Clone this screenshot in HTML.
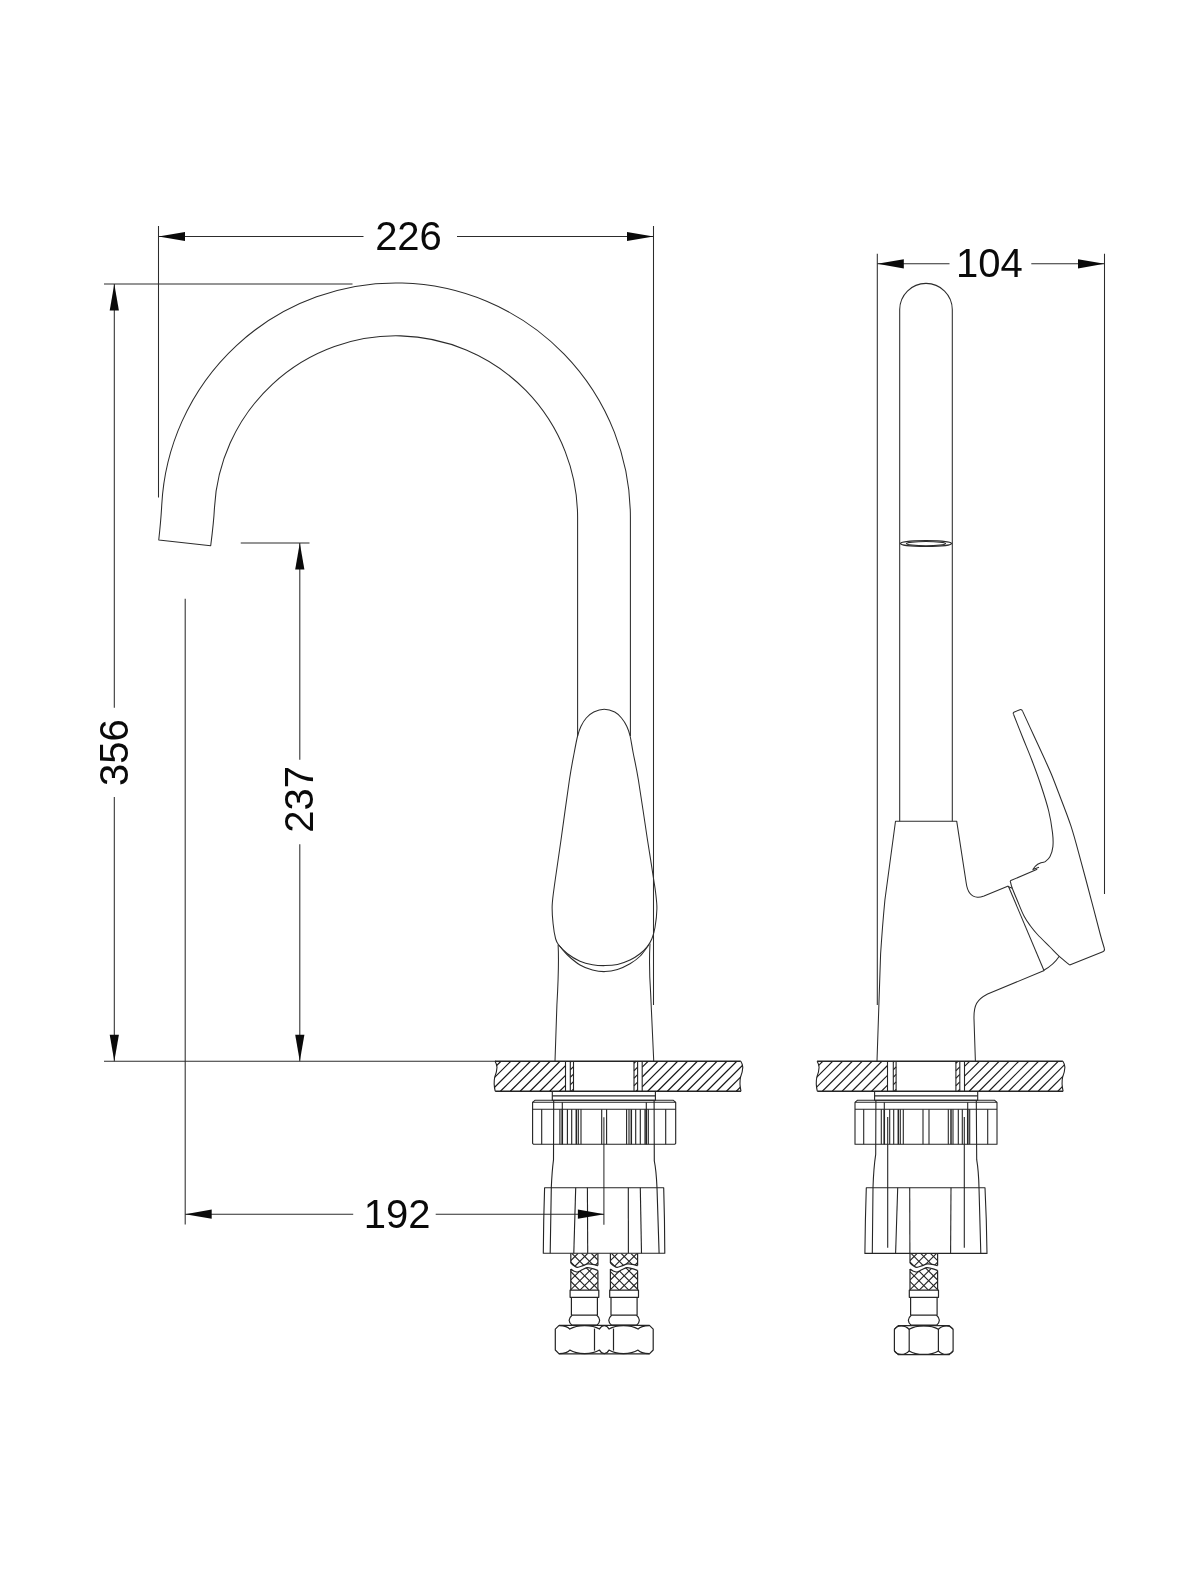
<!DOCTYPE html>
<html lang="en">
<head>
<meta charset="utf-8">
<title>Faucet dimensional drawing</title>
<style>
html,body{margin:0;padding:0;background:#fff;}
body{width:1200px;height:1570px;overflow:hidden;}
svg{display:block;will-change:transform;}
svg text{font-family:"Liberation Sans",sans-serif;font-size:40px;fill:#0a0a0a;text-anchor:middle;}
</style>
</head>
<body>
<svg width="1200" height="1570" viewBox="0 0 1200 1570">
<rect width="1200" height="1570" fill="#ffffff"/>
<g fill="none" stroke="#2c2c2c" stroke-width="1.05" stroke-linecap="butt" stroke-linejoin="round">
<line x1="158.5" y1="226" x2="158.5" y2="497.5"/>
<line x1="653.5" y1="226" x2="653.5" y2="1005"/>
<line x1="158.5" y1="236.5" x2="363.5" y2="236.5"/>
<line x1="457" y1="236.5" x2="653.5" y2="236.5"/>
<line x1="104" y1="284" x2="352.5" y2="284"/>
<line x1="104" y1="1061.25" x2="496" y2="1061.25"/>
<line x1="114.3" y1="284" x2="114.3" y2="707.7"/>
<line x1="114.3" y1="797" x2="114.3" y2="1061.25"/>
<line x1="240.75" y1="543" x2="309.5" y2="543"/>
<line x1="299.8" y1="543" x2="299.8" y2="759.7"/>
<line x1="299.8" y1="844.2" x2="299.8" y2="1061.25"/>
<line x1="185.2" y1="598.75" x2="185.2" y2="1224.4"/>
<line x1="603.9" y1="1117.3" x2="603.9" y2="1224.7"/>
<line x1="185.2" y1="1214.2" x2="353.2" y2="1214.2"/>
<line x1="435.7" y1="1214.2" x2="604" y2="1214.2"/>
<path d="M630.4 736 L630.4 517.5 A234.5 234.5 0 0 0 161.72 505.23 Q161.02 519.23 158.75 540 L210.7 545.75 Q213.75 521.99 214.45 507.99 A181.7 181.7 0 0 1 577.6 517.5 L577.6 736"/>
<path d="M604.2 709.2 C600.7 709.2 596.74 710.53 593.75 712 C590.76 713.47 588.38 715.62 586.25 718 C584.12 720.38 582.44 723.25 581 726.25 C579.56 729.25 578.73 731.62 577.6 736 C576.48 740.38 575.62 745.17 574.25 752.5 C572.88 759.83 571.61 765.42 569.4 780 C567.19 794.58 563.37 823.33 561 840 C558.63 856.67 556.67 869.17 555.2 880 C553.73 890.83 552.55 897.71 552.2 905 C551.85 912.29 552.53 918.12 553.1 923.75 C553.67 929.38 554.66 935.21 555.6 938.75 C556.54 942.29 556.77 942.5 558.75 945 C560.73 947.5 563.96 951.04 567.5 953.75 C571.04 956.46 575.83 959.42 580 961.25 C584.17 963.08 588.33 964.02 592.5 964.75 C596.67 965.48 600.83 965.66 605 965.6 C609.17 965.54 613.33 965.33 617.5 964.4 C621.67 963.47 626.25 961.77 630 960 C633.75 958.23 637.08 956.04 640 953.75 C642.92 951.46 645.52 948.75 647.5 946.25 C649.48 943.75 650.65 941.88 651.9 938.75 C653.15 935.62 654.17 932.5 655 927.5 C655.83 922.5 656.8 914.58 656.9 908.75 C657 902.92 656.12 897.29 655.6 892.5 C655.08 887.71 654.48 884.87 653.75 880 C653.02 875.13 652.24 869.97 651.2 863.3 C650.16 856.63 649.63 853.88 647.5 840 C645.37 826.12 640.8 794.58 638.4 780 C636 765.42 634.48 759.83 633.1 752.5 C631.72 745.17 631.16 740.38 630.1 736 C629.04 731.62 628.18 729.25 626.75 726.25 C625.32 723.25 623.5 720.38 621.5 718 C619.5 715.62 617.63 713.47 614.75 712 C611.87 710.53 607.7 709.2 604.2 709.2 Z"/>
<path d="M558.75 945 C560.21 946.67 563.96 951.67 567.5 955 C571.04 958.33 575.83 962.5 580 965 C584.17 967.5 588.33 968.9 592.5 970 C596.67 971.1 600.83 971.7 605 971.6 C609.17 971.5 613.33 970.71 617.5 969.4 C621.67 968.09 626.25 965.94 630 963.75 C633.75 961.56 636.88 959.38 640 956.25 C643.12 953.12 647.29 946.88 648.75 945"/>
<path d="M558.1 944.5 Q559.2 965 556.9 1005 L555 1061.25"/>
<path d="M650 943.5 Q648.8 966 650.6 992.5 L653.75 1061.25"/>
<g stroke="#242424" stroke-width="1.12">
<line x1="495" y1="1061.25" x2="740.8" y2="1061.25" stroke-width="1.3"/>
<line x1="495.2" y1="1091.25" x2="741" y2="1091.25" stroke-width="1.3"/>
<path d="M495 1061.25 Q496.9 1064.25 497 1067.25 Q496.8 1072.25 494.7 1077.25 Q493.4 1083.25 495.2 1091.25"/>
<path d="M740.8 1061.25 Q742.7 1064.25 742.8 1067.25 Q742.6 1072.25 740.5 1077.25 Q739.2 1083.25 741 1091.25"/>
<line x1="565.5" y1="1061.25" x2="565.5" y2="1091.25"/>
<line x1="642.2" y1="1061.25" x2="642.2" y2="1091.25"/>
<line x1="570.3" y1="1061.25" x2="570.3" y2="1091.25"/>
<line x1="573.5" y1="1061.25" x2="573.5" y2="1091.25"/>
<line x1="634" y1="1061.25" x2="634" y2="1091.25"/>
<line x1="637.6" y1="1061.25" x2="637.6" y2="1091.25"/>
<clipPath id="c495"><path d="M495 1061.25 Q496.9 1064.25 497 1067.25 Q496.8 1072.25 494.7 1077.25 Q493.4 1083.25 495.2 1091.25 L565.5 1091.25 L565.5 1061.25 Z"/><path d="M642.2 1061.25 L740.8 1061.25 Q742.7 1064.25 742.8 1067.25 Q742.6 1072.25 740.5 1077.25 Q739.2 1083.25 741 1091.25 L642.2 1091.25 Z"/></clipPath>
<g clip-path="url(#c495)" stroke="#161616" stroke-width="1.15">
<line x1="492" y1="1070.15" x2="500.9" y2="1061.25"/>
<line x1="492" y1="1080" x2="510.75" y2="1061.25"/>
<line x1="492" y1="1089.85" x2="520.6" y2="1061.25"/>
<line x1="500.45" y1="1091.25" x2="530.45" y2="1061.25"/>
<line x1="510.3" y1="1091.25" x2="540.3" y2="1061.25"/>
<line x1="520.15" y1="1091.25" x2="550.15" y2="1061.25"/>
<line x1="530" y1="1091.25" x2="560" y2="1061.25"/>
<line x1="539.85" y1="1091.25" x2="565.5" y2="1065.6"/>
<line x1="549.7" y1="1091.25" x2="565.5" y2="1075.45"/>
<line x1="559.55" y1="1091.25" x2="565.5" y2="1085.3"/>
<line x1="642.2" y1="1067.15" x2="648.1" y2="1061.25"/>
<line x1="642.2" y1="1077" x2="657.95" y2="1061.25"/>
<line x1="642.2" y1="1086.85" x2="667.8" y2="1061.25"/>
<line x1="647.65" y1="1091.25" x2="677.65" y2="1061.25"/>
<line x1="657.5" y1="1091.25" x2="687.5" y2="1061.25"/>
<line x1="667.35" y1="1091.25" x2="697.35" y2="1061.25"/>
<line x1="677.2" y1="1091.25" x2="707.2" y2="1061.25"/>
<line x1="687.05" y1="1091.25" x2="717.05" y2="1061.25"/>
<line x1="696.9" y1="1091.25" x2="726.9" y2="1061.25"/>
<line x1="706.75" y1="1091.25" x2="736.75" y2="1061.25"/>
<line x1="716.6" y1="1091.25" x2="743.8" y2="1064.05"/>
<line x1="726.45" y1="1091.25" x2="743.8" y2="1073.9"/>
<line x1="736.3" y1="1091.25" x2="743.8" y2="1083.75"/>
</g>
<line x1="570.3" y1="1062.25" x2="571.3" y2="1061.25"/>
<line x1="570.3" y1="1069.75" x2="573.5" y2="1066.55"/>
<line x1="570.3" y1="1077.25" x2="573.5" y2="1074.05"/>
<line x1="570.3" y1="1084.75" x2="573.5" y2="1081.55"/>
<line x1="571.3" y1="1091.25" x2="573.5" y2="1089.05"/>
<line x1="634" y1="1063.25" x2="636" y2="1061.25"/>
<line x1="634" y1="1070.75" x2="637.6" y2="1067.15"/>
<line x1="634" y1="1078.25" x2="637.6" y2="1074.65"/>
<line x1="634" y1="1085.75" x2="637.6" y2="1082.15"/>
<line x1="636" y1="1091.25" x2="637.6" y2="1089.65"/>
<path d="M552.3 1091.25 L552.3 1100.3 L655.4 1100.3 L655.4 1091.25"/>
<line x1="552.3" y1="1095.9" x2="655.4" y2="1095.9"/>
<path d="M534.9 1100.3 L673.4 1100.3 L675.7 1102.3 L675.7 1143.3 L674.7 1144.3 L533.6 1144.3 L532.6 1143.3 L532.6 1102.3 Z"/>
<line x1="532.6" y1="1102.3" x2="675.7" y2="1102.3"/>
<line x1="532.6" y1="1109.3" x2="675.7" y2="1109.3"/>
<line x1="541.7" y1="1109.3" x2="541.7" y2="1144.3"/>
<line x1="559.9" y1="1109.3" x2="559.9" y2="1144.3"/>
<line x1="567.4" y1="1109.3" x2="567.4" y2="1144.3"/>
<line x1="571.7" y1="1109.3" x2="571.7" y2="1144.3"/>
<line x1="578.3" y1="1109.3" x2="578.3" y2="1144.3"/>
<line x1="581" y1="1109.3" x2="581" y2="1144.3"/>
<line x1="601.7" y1="1109.3" x2="601.7" y2="1144.3"/>
<line x1="606.6" y1="1109.3" x2="606.6" y2="1144.3"/>
<line x1="626.6" y1="1109.3" x2="626.6" y2="1144.3"/>
<line x1="629" y1="1109.3" x2="629" y2="1144.3"/>
<line x1="635.7" y1="1109.3" x2="635.7" y2="1144.3"/>
<line x1="640.3" y1="1109.3" x2="640.3" y2="1144.3"/>
<line x1="645" y1="1109.3" x2="645" y2="1144.3"/>
<line x1="648.3" y1="1109.3" x2="648.3" y2="1144.3"/>
<line x1="665.7" y1="1109.3" x2="665.7" y2="1144.3"/>
<line x1="562.3" y1="1109.3" x2="562.3" y2="1144.3" stroke-width="1.5"/>
<line x1="576.3" y1="1109.3" x2="576.3" y2="1144.3" stroke-width="1.5"/>
<line x1="631.3" y1="1109.3" x2="631.3" y2="1144.3" stroke-width="1.5"/>
<line x1="646.3" y1="1109.3" x2="646.3" y2="1144.3" stroke-width="1.5"/>
<line x1="562.3" y1="1102.3" x2="562.3" y2="1144.3"/>
<line x1="646.3" y1="1102.3" x2="646.3" y2="1144.3"/>
<path d="M553.7 1100.3 L553.5 1159.7 Q552 1171 551.3 1187.7 L550.2 1253.3"/>
<path d="M654.1 1100.3 L654.3 1161 Q656.2 1170 657 1187.7 L659.1 1253.3"/>
<path d="M544.6 1187.7 L663.7 1187.7 Q664.7 1220 664.8 1253.3 L543.3 1253.3 Q543.5 1220 544.6 1187.7 Z"/>
<line x1="575.7" y1="1187.7" x2="573.8" y2="1253.3"/>
<line x1="587.4" y1="1187.7" x2="587.7" y2="1253.3"/>
<line x1="628.3" y1="1187.7" x2="628.4" y2="1253.3"/>
<line x1="640.3" y1="1187.7" x2="641.5" y2="1253.3"/>
<line x1="570.8" y1="1253.3" x2="570.8" y2="1263" stroke-width="1.2"/>
<line x1="597.9" y1="1253.3" x2="597.9" y2="1265.6" stroke-width="1.2"/>
<line x1="570.8" y1="1269" x2="570.8" y2="1290.2" stroke-width="1.2"/>
<line x1="597.9" y1="1270.5" x2="597.9" y2="1290.2" stroke-width="1.2"/>
<path d="M570.8 1263 C571.34 1263.45 572.92 1264.97 574.05 1265.7 C575.18 1266.43 576.08 1267.42 577.57 1267.4 C579.07 1267.38 581.28 1266.18 583 1265.6 C584.71 1265.02 586.29 1264.1 587.87 1263.9 C589.45 1263.7 590.81 1264.12 592.48 1264.4 C594.15 1264.68 597 1265.4 597.9 1265.6" stroke-width="1.2"/>
<path d="M570.8 1269 C571.34 1269.37 572.92 1270.7 574.05 1271.2 C575.18 1271.7 576.22 1272.23 577.57 1272 C578.93 1271.77 580.6 1270.53 582.18 1269.8 C583.76 1269.07 585.34 1267.8 587.06 1267.6 C588.78 1267.4 590.67 1268.12 592.48 1268.6 C594.29 1269.08 597 1270.18 597.9 1270.5" stroke-width="1.2"/>
<clipPath id="h570"><path d="M570.8 1263 C571.34 1263.45 572.92 1264.97 574.05 1265.7 C575.18 1266.43 576.08 1267.42 577.57 1267.4 C579.07 1267.38 581.28 1266.18 583 1265.6 C584.71 1265.02 586.29 1264.1 587.87 1263.9 C589.45 1263.7 590.81 1264.12 592.48 1264.4 C594.15 1264.68 597 1265.4 597.9 1265.6 L597.9 1253.3 L570.8 1253.3 Z"/><path d="M570.8 1269 C571.34 1269.37 572.92 1270.7 574.05 1271.2 C575.18 1271.7 576.22 1272.23 577.57 1272 C578.93 1271.77 580.6 1270.53 582.18 1269.8 C583.76 1269.07 585.34 1267.8 587.06 1267.6 C588.78 1267.4 590.67 1268.12 592.48 1268.6 C594.29 1269.08 597 1270.18 597.9 1270.5 L597.9 1290.2 L570.8 1290.2 Z"/></clipPath>
<g clip-path="url(#h570)" stroke-width="1.1">
<line x1="494.2" y1="1253.3" x2="531.1" y2="1290.2"/>
<line x1="529.6" y1="1253.3" x2="492.7" y2="1290.2"/>
<line x1="503.9" y1="1253.3" x2="540.8" y2="1290.2"/>
<line x1="539.3" y1="1253.3" x2="502.4" y2="1290.2"/>
<line x1="513.6" y1="1253.3" x2="550.5" y2="1290.2"/>
<line x1="549" y1="1253.3" x2="512.1" y2="1290.2"/>
<line x1="523.3" y1="1253.3" x2="560.2" y2="1290.2"/>
<line x1="558.7" y1="1253.3" x2="521.8" y2="1290.2"/>
<line x1="533" y1="1253.3" x2="569.9" y2="1290.2"/>
<line x1="568.4" y1="1253.3" x2="531.5" y2="1290.2"/>
<line x1="542.7" y1="1253.3" x2="579.6" y2="1290.2"/>
<line x1="578.1" y1="1253.3" x2="541.2" y2="1290.2"/>
<line x1="552.4" y1="1253.3" x2="589.3" y2="1290.2"/>
<line x1="587.8" y1="1253.3" x2="550.9" y2="1290.2"/>
<line x1="562.1" y1="1253.3" x2="599" y2="1290.2"/>
<line x1="597.5" y1="1253.3" x2="560.6" y2="1290.2"/>
<line x1="571.8" y1="1253.3" x2="608.7" y2="1290.2"/>
<line x1="607.2" y1="1253.3" x2="570.3" y2="1290.2"/>
<line x1="581.5" y1="1253.3" x2="618.4" y2="1290.2"/>
<line x1="616.9" y1="1253.3" x2="580" y2="1290.2"/>
<line x1="591.2" y1="1253.3" x2="628.1" y2="1290.2"/>
<line x1="626.6" y1="1253.3" x2="589.7" y2="1290.2"/>
<line x1="600.9" y1="1253.3" x2="637.8" y2="1290.2"/>
<line x1="636.3" y1="1253.3" x2="599.4" y2="1290.2"/>
<line x1="610.6" y1="1253.3" x2="647.5" y2="1290.2"/>
<line x1="646" y1="1253.3" x2="609.1" y2="1290.2"/>
<line x1="620.3" y1="1253.3" x2="657.2" y2="1290.2"/>
<line x1="655.7" y1="1253.3" x2="618.8" y2="1290.2"/>
<line x1="630" y1="1253.3" x2="666.9" y2="1290.2"/>
<line x1="665.4" y1="1253.3" x2="628.5" y2="1290.2"/>
</g>
<path d="M570.1 1290.2 L598.8 1290.2 L598.8 1297.3 L570.1 1297.3 Z" stroke-width="1.2"/>
<line x1="571.4" y1="1297.3" x2="571.4" y2="1315.2" stroke-width="1.2"/>
<line x1="597.4" y1="1297.3" x2="597.4" y2="1315.2" stroke-width="1.2"/>
<path d="M572 1315.2 L596.9 1315.2 Q602.4 1320.2 596.9 1325.2 L572 1325.2 Q566.3 1320.2 572 1315.2 Z" stroke-width="1.2"/>
<line x1="610.4" y1="1253.3" x2="610.4" y2="1263" stroke-width="1.2"/>
<line x1="637.6" y1="1253.3" x2="637.6" y2="1265.6" stroke-width="1.2"/>
<line x1="610.4" y1="1269" x2="610.4" y2="1290.2" stroke-width="1.2"/>
<line x1="637.6" y1="1270.5" x2="637.6" y2="1290.2" stroke-width="1.2"/>
<path d="M610.4 1263 C610.94 1263.45 612.53 1264.97 613.66 1265.7 C614.8 1266.43 615.7 1267.42 617.2 1267.4 C618.7 1267.38 620.92 1266.18 622.64 1265.6 C624.36 1265.02 625.95 1264.1 627.54 1263.9 C629.12 1263.7 630.48 1264.12 632.16 1264.4 C633.84 1264.68 636.69 1265.4 637.6 1265.6" stroke-width="1.2"/>
<path d="M610.4 1269 C610.94 1269.37 612.53 1270.7 613.66 1271.2 C614.8 1271.7 615.84 1272.23 617.2 1272 C618.56 1271.77 620.24 1270.53 621.82 1269.8 C623.41 1269.07 625 1267.8 626.72 1267.6 C628.44 1267.4 630.35 1268.12 632.16 1268.6 C633.97 1269.08 636.69 1270.18 637.6 1270.5" stroke-width="1.2"/>
<clipPath id="h610"><path d="M610.4 1263 C610.94 1263.45 612.53 1264.97 613.66 1265.7 C614.8 1266.43 615.7 1267.42 617.2 1267.4 C618.7 1267.38 620.92 1266.18 622.64 1265.6 C624.36 1265.02 625.95 1264.1 627.54 1263.9 C629.12 1263.7 630.48 1264.12 632.16 1264.4 C633.84 1264.68 636.69 1265.4 637.6 1265.6 L637.6 1253.3 L610.4 1253.3 Z"/><path d="M610.4 1269 C610.94 1269.37 612.53 1270.7 613.66 1271.2 C614.8 1271.7 615.84 1272.23 617.2 1272 C618.56 1271.77 620.24 1270.53 621.82 1269.8 C623.41 1269.07 625 1267.8 626.72 1267.6 C628.44 1267.4 630.35 1268.12 632.16 1268.6 C633.97 1269.08 636.69 1270.18 637.6 1270.5 L637.6 1290.2 L610.4 1290.2 Z"/></clipPath>
<g clip-path="url(#h610)" stroke-width="1.1">
<line x1="533.8" y1="1253.3" x2="570.7" y2="1290.2"/>
<line x1="569.2" y1="1253.3" x2="532.3" y2="1290.2"/>
<line x1="543.5" y1="1253.3" x2="580.4" y2="1290.2"/>
<line x1="578.9" y1="1253.3" x2="542" y2="1290.2"/>
<line x1="553.2" y1="1253.3" x2="590.1" y2="1290.2"/>
<line x1="588.6" y1="1253.3" x2="551.7" y2="1290.2"/>
<line x1="562.9" y1="1253.3" x2="599.8" y2="1290.2"/>
<line x1="598.3" y1="1253.3" x2="561.4" y2="1290.2"/>
<line x1="572.6" y1="1253.3" x2="609.5" y2="1290.2"/>
<line x1="608" y1="1253.3" x2="571.1" y2="1290.2"/>
<line x1="582.3" y1="1253.3" x2="619.2" y2="1290.2"/>
<line x1="617.7" y1="1253.3" x2="580.8" y2="1290.2"/>
<line x1="592" y1="1253.3" x2="628.9" y2="1290.2"/>
<line x1="627.4" y1="1253.3" x2="590.5" y2="1290.2"/>
<line x1="601.7" y1="1253.3" x2="638.6" y2="1290.2"/>
<line x1="637.1" y1="1253.3" x2="600.2" y2="1290.2"/>
<line x1="611.4" y1="1253.3" x2="648.3" y2="1290.2"/>
<line x1="646.8" y1="1253.3" x2="609.9" y2="1290.2"/>
<line x1="621.1" y1="1253.3" x2="658" y2="1290.2"/>
<line x1="656.5" y1="1253.3" x2="619.6" y2="1290.2"/>
<line x1="630.8" y1="1253.3" x2="667.7" y2="1290.2"/>
<line x1="666.2" y1="1253.3" x2="629.3" y2="1290.2"/>
<line x1="640.5" y1="1253.3" x2="677.4" y2="1290.2"/>
<line x1="675.9" y1="1253.3" x2="639" y2="1290.2"/>
<line x1="650.2" y1="1253.3" x2="687.1" y2="1290.2"/>
<line x1="685.6" y1="1253.3" x2="648.7" y2="1290.2"/>
<line x1="659.9" y1="1253.3" x2="696.8" y2="1290.2"/>
<line x1="695.3" y1="1253.3" x2="658.4" y2="1290.2"/>
<line x1="669.6" y1="1253.3" x2="706.5" y2="1290.2"/>
<line x1="705" y1="1253.3" x2="668.1" y2="1290.2"/>
</g>
<path d="M609.7 1290.2 L638.5 1290.2 L638.5 1297.3 L609.7 1297.3 Z" stroke-width="1.2"/>
<line x1="611" y1="1297.3" x2="611" y2="1315.2" stroke-width="1.2"/>
<line x1="637.1" y1="1297.3" x2="637.1" y2="1315.2" stroke-width="1.2"/>
<path d="M611.6 1315.2 L636.6 1315.2 Q642.1 1320.2 636.6 1325.2 L611.6 1325.2 Q605.9 1320.2 611.6 1315.2 Z" stroke-width="1.2"/>
<path d="M559.1 1325.4 L649.4 1325.4 L653.2 1329.2 L653.2 1350 L649.4 1353.8 L559.1 1353.8 L555.3 1350 L555.3 1329.2 Z" stroke-width="1.2"/>
<path d="M559.1 1325.6 Q567.45 1325.8 569.8 1329.1 C577.22 1324.4 592.08 1324.4 599.5 1329.1 C601.88 1324.4 606.62 1324.4 609 1329.1 C616.25 1324.4 630.75 1324.4 638 1329.1 Q640.7 1325.8 649.4 1325.6" stroke-width="1.2"/>
<path d="M559.1 1353.6 Q567.45 1353.4 569.8 1350.1 C577.22 1354.8 592.08 1354.8 599.5 1350.1 C601.88 1354.8 606.62 1354.8 609 1350.1 C616.25 1354.8 630.75 1354.8 638 1350.1 Q640.7 1353.4 649.4 1353.6" stroke-width="1.2"/>
<line x1="594.5" y1="1328.6" x2="594.5" y2="1350.6" stroke-width="1.2"/>
<line x1="613.5" y1="1328.6" x2="613.5" y2="1350.6" stroke-width="1.2"/>
</g>
<line x1="877.3" y1="253.8" x2="877.3" y2="1005"/>
<line x1="1104.5" y1="253.8" x2="1104.5" y2="894"/>
<line x1="877.3" y1="263.8" x2="949.5" y2="263.8"/>
<line x1="1031.3" y1="263.8" x2="1104.5" y2="263.8"/>
<path d="M899.7 821.2 L899.7 309.6 A26.3 26.3 0 0 1 952.3 309.6 L952.3 821.2"/>
<ellipse cx="926" cy="543.5" rx="25.6" ry="3" stroke-width="1.2"/>
<ellipse cx="926" cy="543.6" rx="19.6" ry="2.1" stroke-width="1.1"/>
<path d="M877 1061.25 L880.6 954 Q882.5 925 884.9 900 L895.5 821.2 L956.7 821.2 L966.2 883 Q968 896.5 977.5 897.3 Q980 897.5 984 896 L1008.3 886"/>
<path d="M975.4 1061.25 L974 1019 C973.6 1005 977 999.5 987.6 994 L1044.2 970.6"/>
<line x1="1008.3" y1="886" x2="1044.2" y2="971"/>
<line x1="1008.5" y1="886.7" x2="1012.3" y2="888.2"/>
<path d="M1044.2 970 Q1053.5 965 1059.3 956.3"/>
<path d="M1013.6 714.5 C1015.12 718.33 1019.67 729.92 1022.7 737.5 C1025.73 745.08 1028.75 752 1031.8 760 C1034.85 768 1038.18 777 1041 785.5 C1043.82 794 1046.78 803.15 1048.7 811 C1050.62 818.85 1051.8 826.67 1052.5 832.6 C1053.2 838.53 1053.33 842.57 1052.9 846.6 C1052.47 850.63 1051.25 854.25 1049.9 856.8 C1048.55 859.35 1045.65 861.05 1044.8 861.9"/>
<path d="M1022.8 711.6 C1024.67 715.67 1030.28 727.93 1034 736 C1037.72 744.07 1042.2 753.62 1045.1 760 C1048 766.38 1049.22 769 1051.4 774.3 C1053.58 779.6 1054.93 783.15 1058.2 791.8 C1061.47 800.45 1067.18 814.52 1071 826.2 C1074.82 837.88 1077.72 849.58 1081.1 861.9 C1084.48 874.22 1088.1 888 1091.3 900.1 C1094.5 912.2 1098.13 926.47 1100.3 934.5 C1102.47 942.53 1103.63 946 1104.3 948.3"/>
<path d="M1013.6 714.5 Q1012.6 712.7 1014.4 711.9 L1019.9 709.7 Q1021.8 709.1 1022.8 711.6"/>
<path d="M1044.8 861.9 Q1036.5 862.5 1032.9 869.6 L1039 867.3"/>
<line x1="1037.2" y1="869.2" x2="1010.2" y2="880.8"/>
<path d="M1010.2 880.8 C1010.5 881.92 1010.78 884.13 1012 887.5 C1013.22 890.87 1015.5 896.25 1017.5 901 C1019.5 905.75 1021.83 911.83 1024 916 C1026.17 920.17 1028.25 922.92 1030.5 926 C1032.75 929.08 1034.25 931 1037.5 934.5 C1040.75 938 1046.37 943.37 1050 947 C1053.63 950.63 1056.02 953.3 1059.3 956.3 C1062.58 959.3 1067.97 963.55 1069.7 965"/>
<path d="M1104.3 948.3 Q1105.2 950.8 1102.8 951.7 L1069.7 965"/>
<g stroke="#262626" stroke-width="1.1">
<line x1="817.1" y1="1061.25" x2="1062.9" y2="1061.25" stroke-width="1.3"/>
<line x1="817.3" y1="1091.25" x2="1063.1" y2="1091.25" stroke-width="1.3"/>
<path d="M817.1 1061.25 Q819 1064.25 819.1 1067.25 Q818.9 1072.25 816.8 1077.25 Q815.5 1083.25 817.3 1091.25"/>
<path d="M1062.9 1061.25 Q1064.8 1064.25 1064.9 1067.25 Q1064.7 1072.25 1062.6 1077.25 Q1061.3 1083.25 1063.1 1091.25"/>
<line x1="887.5" y1="1061.25" x2="887.5" y2="1091.25"/>
<line x1="964.5" y1="1061.25" x2="964.5" y2="1091.25"/>
<line x1="893.3" y1="1061.25" x2="893.3" y2="1091.25"/>
<line x1="896.1" y1="1061.25" x2="896.1" y2="1091.25"/>
<line x1="955.9" y1="1061.25" x2="955.9" y2="1091.25"/>
<line x1="959.8" y1="1061.25" x2="959.8" y2="1091.25"/>
<clipPath id="c817"><path d="M817.1 1061.25 Q819 1064.25 819.1 1067.25 Q818.9 1072.25 816.8 1077.25 Q815.5 1083.25 817.3 1091.25 L887.5 1091.25 L887.5 1061.25 Z"/><path d="M964.5 1061.25 L1062.9 1061.25 Q1064.8 1064.25 1064.9 1067.25 Q1064.7 1072.25 1062.6 1077.25 Q1061.3 1083.25 1063.1 1091.25 L964.5 1091.25 Z"/></clipPath>
<g clip-path="url(#c817)" stroke="#1c1c1c" stroke-width="1.08">
<line x1="814.1" y1="1069.95" x2="822.8" y2="1061.25"/>
<line x1="814.1" y1="1079.8" x2="832.65" y2="1061.25"/>
<line x1="814.1" y1="1089.65" x2="842.5" y2="1061.25"/>
<line x1="822.35" y1="1091.25" x2="852.35" y2="1061.25"/>
<line x1="832.2" y1="1091.25" x2="862.2" y2="1061.25"/>
<line x1="842.05" y1="1091.25" x2="872.05" y2="1061.25"/>
<line x1="851.9" y1="1091.25" x2="881.9" y2="1061.25"/>
<line x1="861.75" y1="1091.25" x2="887.5" y2="1065.5"/>
<line x1="871.6" y1="1091.25" x2="887.5" y2="1075.35"/>
<line x1="881.45" y1="1091.25" x2="887.5" y2="1085.2"/>
<line x1="964.5" y1="1066.35" x2="969.6" y2="1061.25"/>
<line x1="964.5" y1="1076.2" x2="979.45" y2="1061.25"/>
<line x1="964.5" y1="1086.05" x2="989.3" y2="1061.25"/>
<line x1="969.15" y1="1091.25" x2="999.15" y2="1061.25"/>
<line x1="979" y1="1091.25" x2="1009" y2="1061.25"/>
<line x1="988.85" y1="1091.25" x2="1018.85" y2="1061.25"/>
<line x1="998.7" y1="1091.25" x2="1028.7" y2="1061.25"/>
<line x1="1008.55" y1="1091.25" x2="1038.55" y2="1061.25"/>
<line x1="1018.4" y1="1091.25" x2="1048.4" y2="1061.25"/>
<line x1="1028.25" y1="1091.25" x2="1058.25" y2="1061.25"/>
<line x1="1038.1" y1="1091.25" x2="1065.9" y2="1063.45"/>
<line x1="1047.95" y1="1091.25" x2="1065.9" y2="1073.3"/>
<line x1="1057.8" y1="1091.25" x2="1065.9" y2="1083.15"/>
</g>
<line x1="893.3" y1="1062.25" x2="894.3" y2="1061.25"/>
<line x1="893.3" y1="1069.75" x2="896.1" y2="1066.95"/>
<line x1="893.3" y1="1077.25" x2="896.1" y2="1074.45"/>
<line x1="893.3" y1="1084.75" x2="896.1" y2="1081.95"/>
<line x1="894.3" y1="1091.25" x2="896.1" y2="1089.45"/>
<line x1="955.9" y1="1063.25" x2="957.9" y2="1061.25"/>
<line x1="955.9" y1="1070.75" x2="959.8" y2="1066.85"/>
<line x1="955.9" y1="1078.25" x2="959.8" y2="1074.35"/>
<line x1="955.9" y1="1085.75" x2="959.8" y2="1081.85"/>
<line x1="957.9" y1="1091.25" x2="959.8" y2="1089.35"/>
<path d="M874.6 1091.25 L874.6 1100.3 L977.7 1100.3 L977.7 1091.25"/>
<line x1="874.6" y1="1095.9" x2="977.7" y2="1095.9"/>
<path d="M857.3 1100.3 L994.7 1100.3 L997 1102.3 L997 1144.29 L996.99 1144.3 L855.01 1144.3 L855 1144.29 L855 1102.3 Z"/>
<line x1="855" y1="1102.3" x2="997" y2="1102.3"/>
<line x1="855" y1="1109.3" x2="997" y2="1109.3"/>
<line x1="863.7" y1="1109.3" x2="863.7" y2="1144.3"/>
<line x1="881.3" y1="1109.3" x2="881.3" y2="1144.3"/>
<line x1="889.7" y1="1109.3" x2="889.7" y2="1144.3"/>
<line x1="893.7" y1="1109.3" x2="893.7" y2="1144.3"/>
<line x1="900.3" y1="1109.3" x2="900.3" y2="1144.3"/>
<line x1="903.3" y1="1109.3" x2="903.3" y2="1144.3"/>
<line x1="923" y1="1109.3" x2="923" y2="1144.3"/>
<line x1="929" y1="1109.3" x2="929" y2="1144.3"/>
<line x1="948.3" y1="1109.3" x2="948.3" y2="1144.3"/>
<line x1="953" y1="1109.3" x2="953" y2="1144.3"/>
<line x1="958.3" y1="1109.3" x2="958.3" y2="1144.3"/>
<line x1="962.3" y1="1109.3" x2="962.3" y2="1144.3"/>
<line x1="969.7" y1="1109.3" x2="969.7" y2="1144.3"/>
<line x1="987.7" y1="1109.3" x2="987.7" y2="1144.3"/>
<line x1="884.3" y1="1109.3" x2="884.3" y2="1144.3" stroke-width="1.5"/>
<line x1="898.3" y1="1109.3" x2="898.3" y2="1144.3" stroke-width="1.5"/>
<line x1="951" y1="1109.3" x2="951" y2="1144.3" stroke-width="1.5"/>
<line x1="967.7" y1="1109.3" x2="967.7" y2="1144.3" stroke-width="1.5"/>
<line x1="884.3" y1="1102.3" x2="884.3" y2="1144.3"/>
<line x1="967.7" y1="1102.3" x2="967.7" y2="1144.3"/>
<path d="M875.9 1100.3 L875.7 1154.3 Q873.6 1168 873 1187.7 L872.3 1253.4"/>
<path d="M976.3 1100.3 L976.7 1159.7 Q978.6 1171 979 1187.7 L980.8 1253.4"/>
<line x1="887.7" y1="1117" x2="887.7" y2="1247.7"/>
<line x1="964.3" y1="1117" x2="964.3" y2="1247.7"/>
<path d="M866.3 1187.7 L985 1187.7 Q986.6 1220 987 1253.4 L864.9 1253.4 Q865.2 1220 866.3 1187.7 Z"/>
<line x1="897.7" y1="1187.7" x2="895.6" y2="1253.4"/>
<line x1="909.7" y1="1187.7" x2="909.9" y2="1253.4"/>
<line x1="951" y1="1187.7" x2="950.6" y2="1253.4"/>
<line x1="910" y1="1253.4" x2="910" y2="1263" stroke-width="1.2"/>
<line x1="937.6" y1="1253.4" x2="937.6" y2="1265.6" stroke-width="1.2"/>
<line x1="910" y1="1269" x2="910" y2="1290.2" stroke-width="1.2"/>
<line x1="937.6" y1="1270.5" x2="937.6" y2="1290.2" stroke-width="1.2"/>
<path d="M910 1263 C910.55 1263.45 912.16 1264.97 913.31 1265.7 C914.46 1266.43 915.38 1267.42 916.9 1267.4 C918.42 1267.38 920.67 1266.18 922.42 1265.6 C924.17 1265.02 925.78 1264.1 927.39 1263.9 C929 1263.7 930.38 1264.12 932.08 1264.4 C933.78 1264.68 936.68 1265.4 937.6 1265.6" stroke-width="1.2"/>
<path d="M910 1269 C910.55 1269.37 912.16 1270.7 913.31 1271.2 C914.46 1271.7 915.52 1272.23 916.9 1272 C918.28 1271.77 919.98 1270.53 921.59 1269.8 C923.2 1269.07 924.81 1267.8 926.56 1267.6 C928.31 1267.4 930.24 1268.12 932.08 1268.6 C933.92 1269.08 936.68 1270.18 937.6 1270.5" stroke-width="1.2"/>
<clipPath id="h910"><path d="M910 1263 C910.55 1263.45 912.16 1264.97 913.31 1265.7 C914.46 1266.43 915.38 1267.42 916.9 1267.4 C918.42 1267.38 920.67 1266.18 922.42 1265.6 C924.17 1265.02 925.78 1264.1 927.39 1263.9 C929 1263.7 930.38 1264.12 932.08 1264.4 C933.78 1264.68 936.68 1265.4 937.6 1265.6 L937.6 1253.4 L910 1253.4 Z"/><path d="M910 1269 C910.55 1269.37 912.16 1270.7 913.31 1271.2 C914.46 1271.7 915.52 1272.23 916.9 1272 C918.28 1271.77 919.98 1270.53 921.59 1269.8 C923.2 1269.07 924.81 1267.8 926.56 1267.6 C928.31 1267.4 930.24 1268.12 932.08 1268.6 C933.92 1269.08 936.68 1270.18 937.6 1270.5 L937.6 1290.2 L910 1290.2 Z"/></clipPath>
<g clip-path="url(#h910)" stroke-width="1.1">
<line x1="833.4" y1="1253.4" x2="870.2" y2="1290.2"/>
<line x1="868.7" y1="1253.4" x2="831.9" y2="1290.2"/>
<line x1="843.1" y1="1253.4" x2="879.9" y2="1290.2"/>
<line x1="878.4" y1="1253.4" x2="841.6" y2="1290.2"/>
<line x1="852.8" y1="1253.4" x2="889.6" y2="1290.2"/>
<line x1="888.1" y1="1253.4" x2="851.3" y2="1290.2"/>
<line x1="862.5" y1="1253.4" x2="899.3" y2="1290.2"/>
<line x1="897.8" y1="1253.4" x2="861" y2="1290.2"/>
<line x1="872.2" y1="1253.4" x2="909" y2="1290.2"/>
<line x1="907.5" y1="1253.4" x2="870.7" y2="1290.2"/>
<line x1="881.9" y1="1253.4" x2="918.7" y2="1290.2"/>
<line x1="917.2" y1="1253.4" x2="880.4" y2="1290.2"/>
<line x1="891.6" y1="1253.4" x2="928.4" y2="1290.2"/>
<line x1="926.9" y1="1253.4" x2="890.1" y2="1290.2"/>
<line x1="901.3" y1="1253.4" x2="938.1" y2="1290.2"/>
<line x1="936.6" y1="1253.4" x2="899.8" y2="1290.2"/>
<line x1="911" y1="1253.4" x2="947.8" y2="1290.2"/>
<line x1="946.3" y1="1253.4" x2="909.5" y2="1290.2"/>
<line x1="920.7" y1="1253.4" x2="957.5" y2="1290.2"/>
<line x1="956" y1="1253.4" x2="919.2" y2="1290.2"/>
<line x1="930.4" y1="1253.4" x2="967.2" y2="1290.2"/>
<line x1="965.7" y1="1253.4" x2="928.9" y2="1290.2"/>
<line x1="940.1" y1="1253.4" x2="976.9" y2="1290.2"/>
<line x1="975.4" y1="1253.4" x2="938.6" y2="1290.2"/>
<line x1="949.8" y1="1253.4" x2="986.6" y2="1290.2"/>
<line x1="985.1" y1="1253.4" x2="948.3" y2="1290.2"/>
<line x1="959.5" y1="1253.4" x2="996.3" y2="1290.2"/>
<line x1="994.8" y1="1253.4" x2="958" y2="1290.2"/>
<line x1="969.2" y1="1253.4" x2="1006" y2="1290.2"/>
<line x1="1004.5" y1="1253.4" x2="967.7" y2="1290.2"/>
</g>
<path d="M909.3 1290.2 L938.5 1290.2 L938.5 1297.3 L909.3 1297.3 Z" stroke-width="1.2"/>
<line x1="910.6" y1="1297.3" x2="910.6" y2="1315.2" stroke-width="1.2"/>
<line x1="937.1" y1="1297.3" x2="937.1" y2="1315.2" stroke-width="1.2"/>
<path d="M911.2 1315.2 L936.6 1315.2 Q942.1 1320.2 936.6 1325.2 L911.2 1325.2 Q905.5 1320.2 911.2 1315.2 Z" stroke-width="1.2"/>
<path d="M898.2 1325.6 L949.3 1325.6 L953.1 1329.4 L953.1 1350.8 L949.3 1354.6 L898.2 1354.6 L894.4 1350.8 L894.4 1329.4 Z" stroke-width="1.2"/>
<path d="M894.4 1329.3 C897.36 1324.6 904.76 1324.6 909.2 1329.3 C916.5 1324.6 931.1 1324.6 938.4 1329.3 C942.81 1324.6 950.16 1324.6 953.1 1329.3" stroke-width="1.2"/>
<path d="M894.4 1350.9 C897.36 1355.6 904.76 1355.6 909.2 1350.9 C916.5 1355.6 931.1 1355.6 938.4 1350.9 C942.81 1355.6 950.16 1355.6 953.1 1350.9" stroke-width="1.2"/>
<line x1="909.2" y1="1328.8" x2="909.2" y2="1351.4" stroke-width="1.2"/>
<line x1="938.4" y1="1328.8" x2="938.4" y2="1351.4" stroke-width="1.2"/>
</g>
</g>
<g fill="#0a0a0a" stroke="none">
<polygon points="158.5,236.5 185,231.9 185,241.1"/>
<polygon points="653.5,236.5 627,231.9 627,241.1"/>
<polygon points="114.3,284 109.7,310.5 118.9,310.5"/>
<polygon points="114.3,1061.25 109.7,1034.75 118.9,1034.75"/>
<polygon points="299.8,543 295.2,569.5 304.4,569.5"/>
<polygon points="299.8,1061.25 295.2,1034.75 304.4,1034.75"/>
<polygon points="185.2,1214.2 211.7,1209.6 211.7,1218.8"/>
<polygon points="604.4,1214.2 577.9,1209.6 577.9,1218.8"/>
<polygon points="877.3,263.8 903.8,259.2 903.8,268.4"/>
<polygon points="1104.5,263.8 1078,259.2 1078,268.4"/>
</g>
<g>
<text x="408.5" y="250">226</text>
<text transform="translate(128 752.6) rotate(-90)">356</text>
<text transform="translate(313 799.4) rotate(-90)">237</text>
<text x="397.2" y="1228">192</text>
<text x="989.4" y="277">104</text>
</g>
</svg>
</body>
</html>
